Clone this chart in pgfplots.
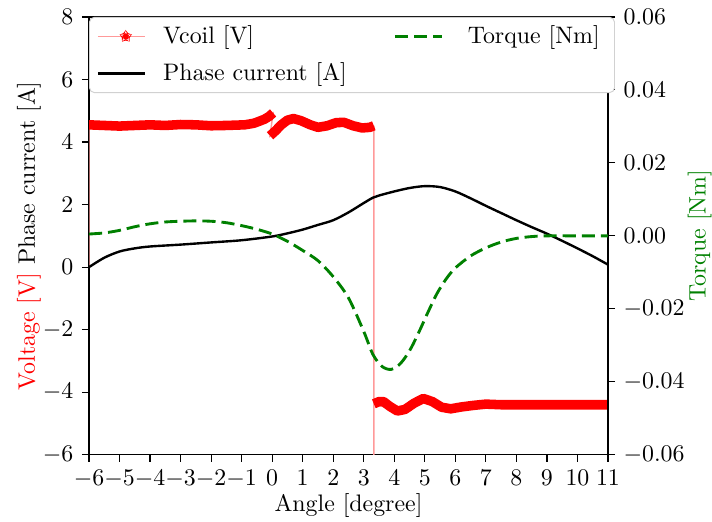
\documentclass[border=0pt]{standalone}
\usepackage{pgfplots}
\pgfplotsset{compat=1.18}
\usetikzlibrary{shapes.geometric}
\definecolor{mplgreen}{RGB}{0,128,0}
\begin{document}
\begin{tikzpicture}
\pgfplotsset{
  common/.style={width=217.5pt,height=183.5pt,scale only axis,xmin=-6,xmax=11,clip=true,
    tick align=outside,major tick length=3pt,
    every tick/.style={black,line width=0.5pt},axis line style={line width=0.5pt}},
}
\begin{axis}[common, ymin=-6, ymax=8, tick pos=left,
  xtick={-6,-5,...,11}, ytick={-6,-4,...,8},
  xlabel={Angle [degree]}, xlabel shift=-4.5pt,
  ylabel={{\color{red}Voltage [V]} Phase current [A]}, ylabel shift=-6pt,
]
\coordinate (SW) at (rel axis cs:0,0);
\coordinate (NE) at (rel axis cs:1,1);
% thin Vcoil line
\addplot[red!40, line width=0.6pt, no marks] coordinates {
(-6,0)(-6,4.55)(-5,4.52)(-4,4.55)(-3,4.55)(-2,4.52)(-1,4.55)(-0.46,4.65)(0.03,4.93)
(-0.07,4.2)(0.3,4.55)(0.7,4.75)(1.5,4.47)(2.3,4.63)(2.95,4.45)(3.33,4.5)
(3.33,-12)(3.33,-4.37)(4.1,-4.6)(4.95,-4.2)(5.85,-4.53)(7,-4.38)(11,-4.4)(11,0)};
% thick pieces (dense markers)
\addplot[red, line width=4pt, no marks, line join=round] coordinates {
(-6,4.55)(-5.5,4.53)(-5,4.51)(-4.5,4.53)(-4,4.55)(-3.5,4.53)(-3,4.56)(-2.5,4.55)(-2,4.52)
(-1.5,4.53)(-0.9,4.55)(-0.6,4.6)(-0.46,4.65)(-0.25,4.73)(-0.1,4.82)(0.03,4.93)};
\addplot[red, line width=4pt, no marks, line join=round] coordinates {
(-0.07,4.2)(0.1,4.35)(0.3,4.55)(0.5,4.7)(0.7,4.75)(0.95,4.68)(1.25,4.55)(1.5,4.47)(1.8,4.52)
(2.1,4.62)(2.35,4.63)(2.65,4.52)(2.95,4.45)(3.2,4.47)(3.33,4.52)};
\addplot[red, line width=4pt, no marks, line join=round] coordinates {
(3.33,-4.37)(3.5,-4.3)(3.65,-4.3)(3.85,-4.45)(4.1,-4.6)(4.35,-4.55)(4.65,-4.35)(4.95,-4.2)
(5.25,-4.3)(5.55,-4.48)(5.85,-4.53)(6.2,-4.47)(6.6,-4.42)(7,-4.38)(7.5,-4.4)(8,-4.4)(9,-4.4)(10,-4.4)(11,-4.4)};
% phase current
\addplot[black, line width=1pt, no marks, smooth] coordinates {
(-6,0)(-5.5,0.3)(-5,0.5)(-4.5,0.6)(-4,0.66)(-3,0.72)(-2,0.79)(-1,0.86)(0,0.98)(0.5,1.08)
(1,1.2)(1.5,1.35)(2,1.5)(2.5,1.75)(3,2.05)(3.3,2.22)(3.5,2.29)(4,2.42)(4.5,2.53)(5,2.59)
(5.5,2.56)(6,2.42)(6.5,2.2)(7,1.96)(7.5,1.73)(8,1.5)(8.5,1.28)(9,1.07)(9.5,0.84)(10,0.6)(10.5,0.35)(11,0.08)};
\end{axis}
\begin{axis}[common, ymin=-0.06, ymax=0.06, axis x line=none, axis y line*=right,
  ytick={-0.06,-0.04,-0.02,0,0.02,0.04,0.06}, scaled y ticks=false,
  yticklabel style={/pgf/number format/fixed,/pgf/number format/fixed zerofill,/pgf/number format/precision=2},
  ylabel={Torque [Nm]}, ylabel style={color=mplgreen}, ylabel shift=-5.5pt,
  legend image code/.code={\draw[#1] (0cm,0cm) -- (0.7cm,0cm);},
  legend columns=2,
  legend cell align=left,
  legend style={at={(0,1)}, anchor=north west, draw=black!18, rounded corners=2pt, fill=white,
    row sep=2.5pt, inner ysep=1.5pt, inner xsep=3pt},
]
\addlegendimage{legend image code/.code={\draw[red!40,line width=0.6pt](0cm,0cm)--(0.7cm,0cm);
  \node[star,star points=5,star point ratio=2.4,fill=red,draw=none,inner sep=0pt,minimum size=5pt] at (0.35cm,0cm) {};}}
\addlegendentry{\makebox[99.5pt][l]{\hspace{5pt}Vcoil [V]}}
\addplot[mplgreen, line width=1.2pt, dash pattern=on 5.5pt off 2.5pt, no marks, smooth] coordinates {
(-6,0.0005)(-5.5,0.0008)(-5,0.0015)(-4.5,0.0025)(-4,0.0033)(-3.5,0.0038)(-3,0.004)(-2.5,0.0041)
(-2,0.004)(-1.5,0.0036)(-1,0.0028)(-0.5,0.0018)(0,0.0005)(0.5,-0.0015)(1,-0.004)(1.5,-0.0068)
(2,-0.0112)(2.5,-0.017)(3,-0.0262)(3.3,-0.0325)(3.6,-0.0358)(3.9,-0.0366)(4.2,-0.035)
(4.5,-0.0315)(4.8,-0.0265)(5.1,-0.021)(5.4,-0.0158)(5.7,-0.0118)
(6,-0.0088)(6.5,-0.0055)(7,-0.0033)(7.5,-0.0017)(8,-0.0007)(8.5,-0.0002)(9,0)(10,0)(11,0)};
\addlegendentry{\makebox[64.5pt][l]{\hspace{8pt}Torque [Nm]}}
\addlegendimage{black, line width=1pt}
\addlegendentry{\hspace{5pt}Phase current [A]\rule[-7.5pt]{0pt}{1pt}}
\end{axis}
\pgfresetboundingbox
\path[use as bounding box] ([xshift=-37.3pt,yshift=-28.1pt]SW) rectangle ([xshift=43.6pt,yshift=7.1pt]NE);
\end{tikzpicture}
\end{document}
